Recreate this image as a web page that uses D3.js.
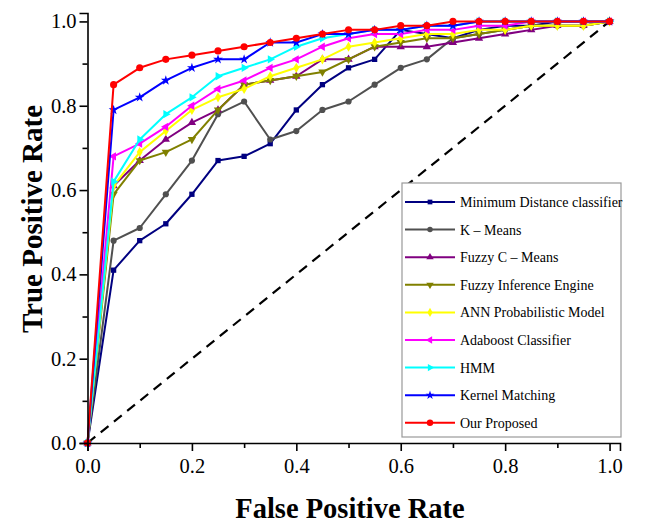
<!DOCTYPE html>
<html>
<head>
<meta charset="utf-8">
<script src="https://cdn.jsdelivr.net/npm/d3@7/dist/d3.min.js"></script>
<style>
  body { margin: 0; background: #fff; }
  svg { display: block; }
  svg text { font-family: "Liberation Serif", "Times New Roman", serif; }
</style>
</head>
<body>
<svg id="chart" width="659" height="525"></svg>
<script>
const fpr = [0, 0.05, 0.1, 0.15, 0.2, 0.25, 0.3, 0.35, 0.4, 0.45, 0.5, 0.55, 0.6, 0.65, 0.7, 0.75, 0.8, 0.85, 0.9, 0.95, 1.0];

const minDistance = [0, 0.41, 0.48, 0.52, 0.59, 0.67, 0.68, 0.71, 0.79, 0.85, 0.89, 0.91, 0.98, 0.97, 0.96, 0.98, 0.99, 0.99, 1.0, 1.0, 1.0];
const kMeans      = [0, 0.48, 0.51, 0.59, 0.67, 0.78, 0.81, 0.72, 0.74, 0.79, 0.81, 0.85, 0.89, 0.91, 0.96, 0.97, 0.98, 0.99, 0.99, 0.99, 1.0];
const fuzzyCMeans = [0, 0.61, 0.67, 0.72, 0.76, 0.79, 0.85, 0.86, 0.87, 0.91, 0.91, 0.94, 0.94, 0.94, 0.95, 0.96, 0.97, 0.98, 0.99, 0.99, 1.0];
const fuzzyInfer  = [0, 0.59, 0.67, 0.69, 0.72, 0.79, 0.85, 0.86, 0.87, 0.88, 0.91, 0.94, 0.95, 0.96, 0.96, 0.97, 0.98, 0.99, 0.99, 0.99, 1.0];
const annProb     = [0, 0.61, 0.69, 0.74, 0.79, 0.82, 0.84, 0.87, 0.89, 0.91, 0.94, 0.95, 0.96, 0.97, 0.97, 0.98, 0.98, 0.99, 0.99, 0.99, 1.0];
const adaboost    = [0, 0.68, 0.71, 0.75, 0.80, 0.84, 0.86, 0.89, 0.91, 0.94, 0.96, 0.97, 0.97, 0.98, 0.98, 0.99, 0.99, 1.0, 1.0, 1.0, 1.0];
const hmm         = [0, 0.62, 0.72, 0.78, 0.82, 0.87, 0.89, 0.91, 0.94, 0.96, 0.97, 0.98, 0.98, 0.99, 0.99, 1.0, 1.0, 1.0, 1.0, 1.0, 1.0];
const kernelMatch = [0, 0.79, 0.82, 0.86, 0.89, 0.91, 0.91, 0.95, 0.95, 0.97, 0.97, 0.98, 0.98, 0.99, 0.99, 1.0, 1.0, 1.0, 1.0, 1.0, 1.0];
const ourProposed = [0, 0.85, 0.89, 0.91, 0.92, 0.93, 0.94, 0.95, 0.96, 0.97, 0.98, 0.98, 0.99, 0.99, 1.0, 1.0, 1.0, 1.0, 1.0, 1.0, 1.0];

const seriesNames = ['Minimum Distance classifier', 'K \u2013 Means', 'Fuzzy C \u2013 Means', 'Fuzzy Inference Engine',
    'ANN Probabilistic Model', 'Adaboost Classifier', 'HMM', 'Kernel Matching', 'Our Proposed'];
const seriesValues = [minDistance, kMeans, fuzzyCMeans, fuzzyInfer, annProb, adaboost, hmm, kernelMatch, ourProposed];
const seriesColors = ['#000080', '#505050', '#800080', '#808000', '#ffff00', '#ff00ff', '#00ffff', '#0000ff', '#ff0000'];
const majorTicks = [0, 0.2, 0.4, 0.6, 0.8, 1.0];
const minorTicks = [0.1, 0.3, 0.5, 0.7, 0.9];

// marker shapes: [symbol, rotation, area]
const markers = [
    [d3.symbolSquare, 0, 28],
    [d3.symbolCircle, 0, 30],
    [d3.symbolTriangle, 0, 30],
    [d3.symbolTriangle, 180, 30],
    [d3.symbolDiamond, 0, 30],
    [d3.symbolTriangle, -90, 30],
    [d3.symbolTriangle, 90, 30],
    [d3.symbolStar, 0, 30],
    [d3.symbolCircle, 0, 40]
];

const svg = d3.select('#chart');
const x = d3.scaleLinear().domain([0, 1.02]).range([87.5, 620]);
const y = d3.scaleLinear().domain([0, 1.02]).range([443, 13]);

// Diagonal reference line
svg.append('line')
    .attr('x1', x(0)).attr('y1', y(0))
    .attr('x2', x(1)).attr('y2', y(1))
    .attr('stroke', '#000')
    .attr('stroke-width', 2.2)
    .attr('stroke-dasharray', '10,7');

// Curves
const line = d3.line().x((d, i) => x(fpr[i])).y(d => y(d));

seriesValues.forEach((vals, k) => {
    const g = svg.append('g');
    g.append('path')
        .datum(vals)
        .attr('d', line)
        .attr('fill', 'none')
        .attr('stroke', seriesColors[k])
        .attr('stroke-width', 2)
        .attr('stroke-linejoin', 'round');
    const [sym, rot, area] = markers[k];
    g.selectAll('path.mk')
        .data(vals)
        .enter()
        .append('path')
        .attr('class', 'mk')
        .attr('d', d3.symbol().type(sym).size(area))
        .attr('transform', (d, i) => `translate(${x(fpr[i])},${y(d)}) rotate(${rot})`)
        .attr('fill', seriesColors[k]);
});

// Axes
const xAxis = svg.append('g').attr('transform', `translate(0,${y(0)})`);
xAxis.call(d3.axisBottom(x).tickValues(majorTicks).tickSize(8).tickPadding(7).tickFormat(d3.format('.1f')));
xAxis.append('g').call(d3.axisBottom(x).tickValues(minorTicks).tickSize(5).tickFormat(''))
    .select('.domain').remove();

const yAxis = svg.append('g').attr('transform', `translate(${x(0)},0)`);
yAxis.call(d3.axisLeft(y).tickValues(majorTicks).tickSize(8).tickPadding(3).tickFormat(d3.format('.1f')));
yAxis.append('g').call(d3.axisLeft(y).tickValues(minorTicks).tickSize(5).tickFormat(''))
    .select('.domain').remove();

svg.selectAll('.domain').attr('stroke', '#000').attr('stroke-width', 1.6);
svg.selectAll('.tick line').attr('stroke', '#000').attr('stroke-width', 1.6);
svg.selectAll('.tick text')
    .style('font-family', '"Liberation Serif", serif')
    .style('font-size', '20.5px')
    .attr('fill', '#000');

// Axis titles
svg.append('text')
    .attr('x', 350)
    .attr('y', 518)
    .attr('text-anchor', 'middle')
    .style('font-size', '28.5px')
    .style('font-weight', 'bold')
    .text('False Positive Rate');

svg.append('text')
    .attr('transform', 'rotate(-90)')
    .attr('x', -219)
    .attr('y', 42)
    .attr('text-anchor', 'middle')
    .style('font-size', '29px')
    .style('font-weight', 'bold')
    .text('True Positive Rate');

// Legend
const legend = svg.append('g').attr('transform', 'translate(402,183)');
legend.append('rect')
    .attr('width', 219)
    .attr('height', 254)
    .attr('fill', '#fff')
    .attr('stroke', '#999')
    .attr('stroke-width', 1.2);

seriesNames.forEach((name, k) => {
    const cy = 19 + k * 27.6;
    const row = legend.append('g').attr('transform', `translate(0,${cy})`);
    row.append('line')
        .attr('x1', 3).attr('x2', 53)
        .attr('stroke', seriesColors[k])
        .attr('stroke-width', 2);
    const [sym, rot, area] = markers[k];
    row.append('path')
        .attr('d', d3.symbol().type(sym).size(area * 0.8))
        .attr('transform', `translate(28,0) rotate(${rot})`)
        .attr('fill', seriesColors[k]);
    row.append('text')
        .attr('x', 58)
        .attr('y', 5)
        .style('font-size', '14px')
        .attr('fill', '#000')
        .text(name);
});
</script>
</body>
</html>
